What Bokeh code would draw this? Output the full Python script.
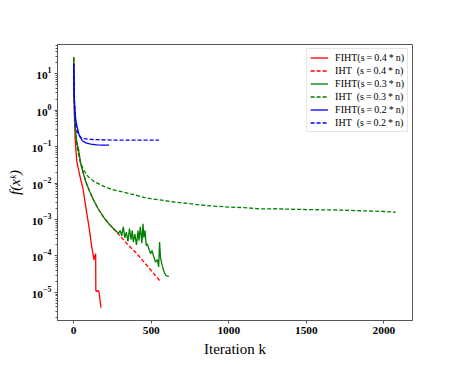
from bokeh.plotting import figure
from bokeh.models import Range1d, Legend, LegendItem, FixedTicker
from bokeh.embed import file_html
from bokeh.resources import INLINE

# ---- data ----
fiht04_x = [0, 2, 5, 10, 20, 40, 60, 80, 100, 115, 125, 131, 136, 142, 143, 150, 158, 163, 170, 176]
fiht04_y = [28.2, 3.98, 0.631, 0.158, 0.0398, 0.0158, 7.08e-3, 2.0e-3, 5.89e-4, 2.0e-4,
            1.12e-4, 7.76e-5, 1.0e-4, 1.15e-4, 1.12e-5, 1.07e-5, 1.12e-5, 1.05e-5, 6.3e-6, 3.8e-6]

iht04_x = [0, 3, 6, 10, 15, 20, 30, 45, 60, 80, 100, 130, 160, 200, 240, 280, 320, 360, 400, 440, 480, 520, 561]
iht04_y = [28.2, 3.98, 1.0, 0.355, 0.2, 0.132, 0.0891, 0.0355, 0.02, 0.0105, 6.31e-3, 3.31e-3,
           1.91e-3, 1.05e-3, 6.61e-4, 4.37e-4, 2.82e-4, 1.82e-4, 1.26e-4, 7.94e-5, 5.01e-5, 3.16e-5, 1.95e-5]

fiht03_x = [0, 3, 6, 10, 15, 20, 30, 45, 60, 80, 100, 130, 160, 200, 240, 270, 290, 300, 310, 320,
            330, 340, 350, 360, 370, 378, 385, 395, 405, 415, 421, 430, 440, 447, 453, 460, 468, 475,
            485, 496, 505, 515, 528, 540, 548, 554, 560, 571, 580, 593, 603, 614]
fiht03_y = [28.2, 3.98, 1.0, 0.355, 0.2, 0.132, 0.0891, 0.0355, 0.02, 0.0105, 6.31e-3, 3.31e-3,
            1.91e-3, 1.05e-3, 6.61e-4, 5.01e-4, 4.17e-4, 5.01e-4, 3.55e-4, 6.31e-4, 3.16e-4, 4.47e-4,
            2.51e-4, 5.62e-4, 2.82e-4, 5.01e-4, 2.40e-4, 3.98e-4, 2.0e-4, 5.01e-4, 2.63e-4, 6.31e-4,
            2.24e-4, 7.59e-4, 3.16e-4, 5.01e-4, 1.91e-4, 2.14e-4, 1.58e-4, 1.15e-4, 1.41e-4, 1.0e-4,
            6.76e-5, 7.94e-5, 5.01e-5, 2.40e-4, 8.91e-5, 5.5e-5, 3.98e-5, 2.95e-5, 2.82e-5, 2.75e-5]

iht03_x = [0, 3, 6, 10, 20, 30, 45, 60, 80, 100, 130, 174, 200, 250, 300, 389, 453, 496, 550, 650,
           775, 861, 1000, 1100, 1205, 1300, 1400, 1550, 1699, 1850, 2000, 2075]
iht03_y = [28.2, 3.16, 0.794, 0.355, 0.126, 0.0631, 0.0355, 0.0251, 0.0178, 0.0141, 0.0112, 8.91e-3,
           7.94e-3, 6.61e-3, 5.89e-3, 4.79e-3, 4.07e-3, 3.72e-3, 3.47e-3, 3.02e-3, 2.63e-3, 2.40e-3,
           2.19e-3, 2.12e-3, 1.95e-3, 1.97e-3, 1.91e-3, 1.86e-3, 1.82e-3, 1.74e-3, 1.66e-3, 1.58e-3]

fiht02_x = [0, 2, 4, 8, 15, 24, 35, 56, 80, 110, 150, 190, 228]
fiht02_y = [18.6, 6.31, 2.24, 0.955, 0.501, 0.331, 0.209, 0.145, 0.126, 0.117, 0.112, 0.110, 0.110]

iht02_x = [0, 2, 4, 8, 13, 25, 45, 70, 99, 150, 250, 335, 450, 550]
iht02_y = [18.6, 6.31, 2.24, 1.0, 0.398, 0.240, 0.178, 0.166, 0.158, 0.155, 0.151, 0.151, 0.151, 0.151]

x_ticks = [0, 500, 1000, 1500, 2000]
y_ticks = [1e-5, 1e-4, 1e-3, 1e-2, 1e-1, 1e0, 1e1]

labels = ["FIHT(s\u2009=\u20090.4\u2009*\u2009n)", "IHT\u2002(s\u2009=\u20090.4\u2009*\u2009n)",
          "FIHT(s\u2009=\u20090.3\u2009*\u2009n)", "IHT\u2002(s\u2009=\u20090.3\u2009*\u2009n)",
          "FIHT(s\u2009=\u20090.2\u2009*\u2009n)", "IHT\u2002(s\u2009=\u20090.2\u2009*\u2009n)"]

FONT = "Liberation Serif"
AX = "#555555"

p = figure(width=457, height=366, y_axis_type="log",
           x_range=Range1d(-104, 2184), y_range=Range1d(1.7e-6, 63),
           output_backend="svg", toolbar_location=None,
           min_border_left=57, min_border_right=45, min_border_top=44, min_border_bottom=46)

p.grid.visible = False
p.outline_line_color = AX
p.outline_line_width = 1

series = [
    (fiht04_x, fiht04_y, "#ff0000", "solid"),
    (iht04_x, iht04_y, "#ff0000", "4 2"),
    (fiht03_x, fiht03_y, "#008000", "solid"),
    (iht03_x, iht03_y, "#008000", "4 2"),
    (fiht02_x, fiht02_y, "#0000ff", "solid"),
    (iht02_x, iht02_y, "#0000ff", "4 2"),
]
items = []
for (xs, ys, c, d), lab in zip(series, labels):
    r = p.line(xs, ys, line_color=c, line_width=1.3, line_dash=d)
    items.append(LegendItem(label=lab, renderers=[r]))

legend = Legend(items=items, location="top_right")
legend.margin = 4
legend.padding = 3
legend.spacing = 2
legend.glyph_width = 18
legend.glyph_height = 11
legend.label_height = 11
legend.label_standoff = 7
legend.label_text_font = FONT
legend.label_text_font_size = "10px"
legend.label_text_color = "black"
legend.border_line_color = "#cccccc"
legend.border_line_width = 1
legend.background_fill_alpha = 0.9
p.add_layout(legend)

minor = [m * t for t in [1e-6] + y_ticks for m in range(2, 10)]
p.xaxis.ticker = FixedTicker(ticks=x_ticks)
p.yaxis.ticker = FixedTicker(ticks=y_ticks, minor_ticks=minor)

for ax in (p.xaxis[0], p.yaxis[0]):
    ax.axis_line_color = AX
    ax.major_tick_line_color = AX
    ax.minor_tick_line_color = AX
    ax.major_tick_in = 0
    ax.major_tick_out = 3
    ax.minor_tick_in = 0
    ax.minor_tick_out = 2
    ax.major_label_text_font = FONT
    ax.major_label_text_font_style = "bold"
    ax.major_label_text_font_size = "8.5pt"
    ax.major_label_text_color = "black"
    ax.major_label_standoff = 3
    ax.axis_label_text_font = FONT
    ax.axis_label_text_font_size = "15px"
    ax.axis_label_text_color = "black"
p.xaxis.minor_tick_out = 0
p.xaxis.axis_label = "Iteration k"
p.xaxis.axis_label_standoff = 4
p.xaxis.axis_label_text_font_style = "normal"
p.yaxis.axis_label = "f(x\u1d4f)"
p.yaxis.axis_label_standoff = 6
p.yaxis.axis_label_text_font_style = "italic"

open("out.html", "w").write(file_html(p, INLINE))
